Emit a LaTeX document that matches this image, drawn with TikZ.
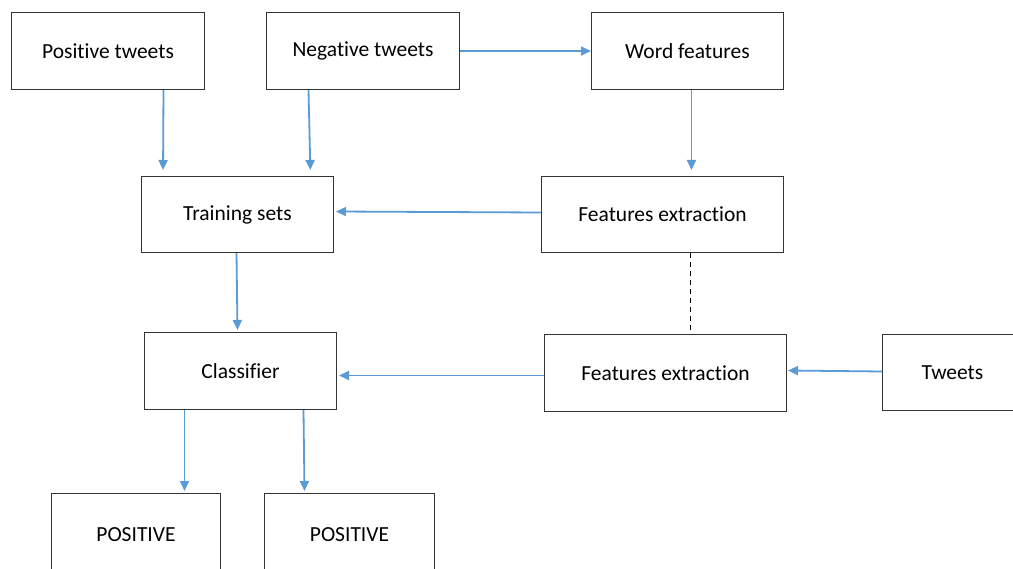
\documentclass[tikz,border=0pt]{standalone}
\usepackage{fontspec}
\setmainfont{Carlito}[Ligatures=NoCommon]
\usetikzlibrary{arrows.meta}
\definecolor{arrowblue}{RGB}{91,155,213}
\tikzset{
  box/.style={draw=black!80, line width=1pt, anchor=north west, inner sep=0pt, font=\fontsize{21.5}{24}\selectfont},
  flow/.style={draw=arrowblue, line width=1.8pt, -{Triangle[length=10pt,width=9pt]}},
}
\begin{document}
\begin{tikzpicture}[x=1pt,y=-1pt]
\useasboundingbox (0,0) rectangle (1013,569);
\clip (0,0) rectangle (1013,569);
\node[box, minimum width=193pt, minimum height=77pt] (pt) at (11,12) {Positive tweets};
\node[box, minimum width=193pt, minimum height=77pt] (nt) at (266,12) {Negative tweets};
\node[box, minimum width=192pt, minimum height=77pt] (wf) at (591,12) {Word features};
\node[box, minimum width=192pt, minimum height=76pt] (ts) at (141,176) {Training sets};
\node[box, minimum width=242pt, minimum height=76pt] (fe1) at (541,176) {Features extraction};
\node[box, minimum width=192pt, minimum height=77pt] (cl) at (144,332) {Classifier};
\node[box, minimum width=242pt, minimum height=77pt] (fe2) at (544,334) {Features extraction};
\node[box, minimum width=140pt, minimum height=76pt] (tw) at (882,334) {Tweets};
\node[box, minimum width=169pt, minimum height=82pt] (p1) at (51,493) {POSITIVE};
\node[box, minimum width=170pt, minimum height=82pt] (p2) at (264,493) {POSITIVE};
% connectors
\draw[flow, shorten >=6pt] ([xshift=55.5pt]pt.south) -- ([xshift=-74.5pt]ts.north);
\draw[flow, shorten >=6pt] ([xshift=-54.5pt]nt.south) -- ([xshift=73pt]ts.north);
\draw[flow] (nt.east) -- (wf.west);
\draw[flow, shorten >=6pt] ([xshift=4pt]wf.south) -- ([xshift=29pt]fe1.north);
\draw[flow, shorten >=2pt] ([yshift=2pt]fe1.west) -- ([yshift=3pt]ts.east);
\draw[flow, shorten >=2pt] ([xshift=-1pt]ts.south) -- ([xshift=-3pt]cl.north);
\draw[black, line width=1pt, dash pattern=on 5pt off 4pt] ([xshift=28pt]fe1.south) -- ([xshift=25pt]fe2.north);
\draw[flow, shorten >=2pt] ([yshift=-2.5pt]fe2.west) -- ([yshift=-4.5pt]cl.east);
\draw[flow, shorten >=1pt] ([yshift=1pt]tw.west) -- ([yshift=2.5pt]fe2.east);
\draw[flow, shorten >=2pt] ([xshift=-56pt]cl.south) -- ([xshift=48.5pt]p1.north);
\draw[flow, shorten >=2pt] ([xshift=63pt]cl.south) -- ([xshift=-45pt]p2.north);
\end{tikzpicture}
\end{document}
